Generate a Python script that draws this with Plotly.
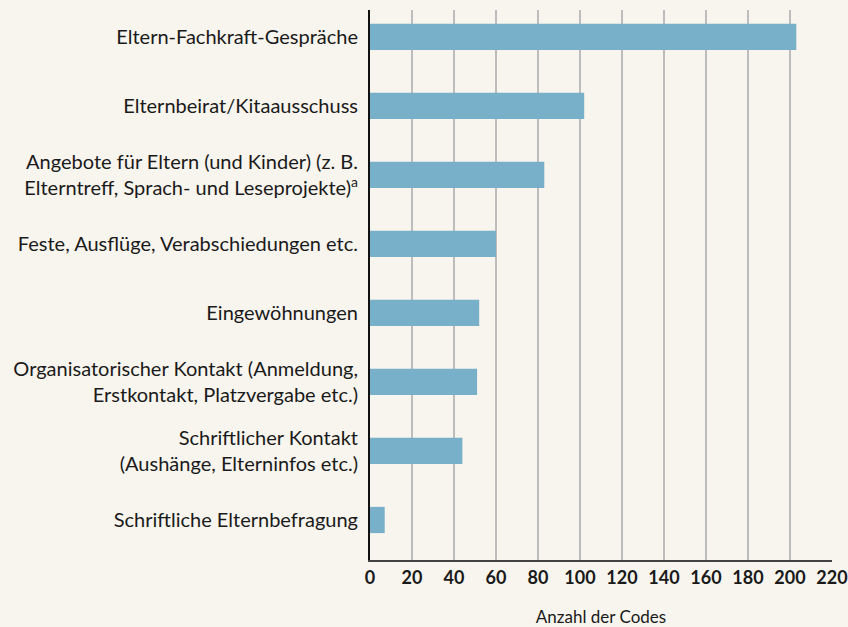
import plotly.graph_objects as go

categories = [
    "Eltern-Fachkraft-Gespräche",
    "Elternbeirat/Kitaausschuss",
    "Angebote für Eltern (und Kinder) (z. B.<br>Elterntreff, Sprach- und Leseprojekte)<sup>a</sup>",
    "Feste, Ausflüge, Verabschiedungen etc.",
    "Eingewöhnungen",
    "Organisatorischer Kontakt (Anmeldung,<br>Erstkontakt, Platzvergabe etc.)",
    "Schriftlicher Kontakt<br>(Aushänge, Elterninfos etc.)",
    "Schriftliche Elternbefragung",
]
values = [203, 102, 83, 60, 52, 51, 44, 7]
x_ticks = list(range(0, 221, 20))

bg = "#f8f5ee"
fig = go.Figure(go.Bar(
    x=values, y=categories, orientation="h",
    marker=dict(color="#78afc9", line=dict(width=0)),
    width=0.38,
))
fig.update_layout(
    width=848, height=627,
    paper_bgcolor=bg, plot_bgcolor=bg,
    margin=dict(l=370, r=16, t=10, b=67),
    font=dict(family="Lato, 'Open Sans', sans-serif", color="#1a1a1a"),
    showlegend=False,
)
fig.update_xaxes(
    range=[0, 220], tickvals=x_ticks, ticktext=[f"<b>{v}</b>" for v in x_ticks],
    showgrid=True, gridcolor="#bdbdbd", gridwidth=1.5,
    showline=True, linecolor="#444444", linewidth=2,
    zeroline=False, ticks="", tickfont=dict(size=18, color="#1a1a1a"),
    title=dict(text="Anzahl der Codes", font=dict(size=17), standoff=25),
    automargin=False,
)
fig.update_yaxes(
    categoryorder="array", categoryarray=categories,
    range=[7.58, -0.39],
    showline=True, linecolor="#111111", linewidth=2,
    showgrid=False, ticks="", ticklabelstandoff=6,
    tickfont=dict(size=20, color="#1a1a1a"),
    automargin=False,
)
fig.write_html(
    "out.html",
    config={"displayModeBar": False},
    post_script="document.body.style.margin='0';document.body.style.background='%s';" % bg,
)
